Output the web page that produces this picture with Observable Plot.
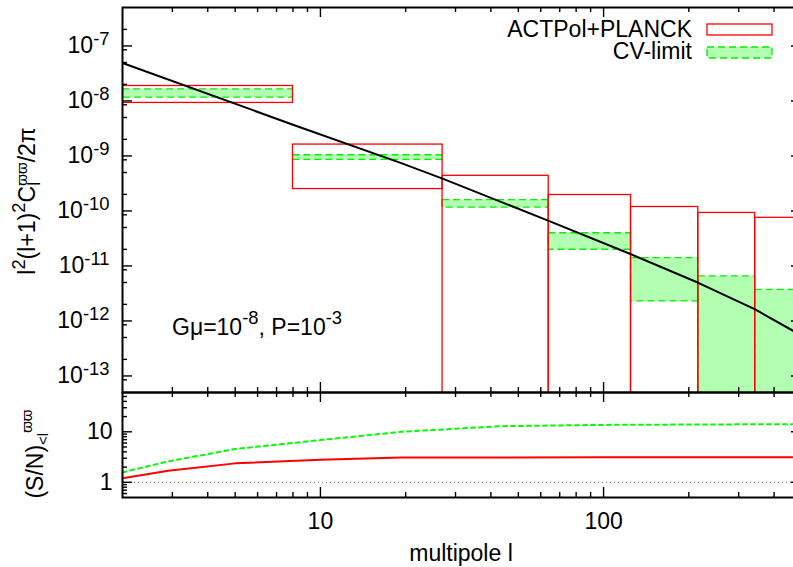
<!DOCTYPE html>
<html><head><meta charset="utf-8">
<script src="https://cdn.jsdelivr.net/npm/d3@7"></script>
<script src="https://cdn.jsdelivr.net/npm/@observablehq/plot@0.6"></script>
<style>
html,body{margin:0;padding:0;background:#fff;overflow:hidden;width:793px;height:567px;}
#wrap{position:relative;width:793px;height:567px;overflow:hidden;}
#wrap svg{position:absolute;left:0;}
</style></head><body><div id="wrap"></div>
<script>
// ---- data ----
const binLo = [2, 8, 27, 64, 125, 216, 343];
const binHi = [8, 27, 64, 125, 216, 343, 512];
// ACTPol+PLANCK boxes (lower bound 1e-16 = "reaches zero", below the axis)
const actLo = [9.2e-9, 2.5e-10, 1e-16, 1e-16, 1e-16, 1e-16, 1e-16];
const actHi = [1.87e-8, 1.61e-9, 4.35e-10, 1.95e-10, 1.18e-10, 9.2e-11, 7.5e-11];
// CV-limit boxes
const cvLo = [1.15e-8, 8.5e-10, 1.15e-10, 1.97e-11, 2.26e-12, 1e-16, 1e-16];
const cvHi = [1.62e-8, 1.03e-9, 1.57e-10, 3.93e-11, 1.39e-11, 6.45e-12, 3.68e-12];
// theory spectrum
const thL = [2, 8, 19.3, 27, 64, 125, 216, 343, 470];
const thV = [4.9e-8, 3.7e-9, 7.4e-10, 3.87e-10, 6.6e-11, 1.63e-11, 4.94e-12, 1.62e-12, 6.5e-13];
// cumulative S/N
const snL = [2, 2.9, 5, 10, 19.3, 43, 100, 500];
const snAct = [1.2, 1.7, 2.37, 2.8, 3.1, 3.1, 3.12, 3.15];
const snCV = [1.57, 2.6, 4.56, 6.86, 10, 12.9, 13.7, 14.2];
// ticks
const xMajor = [10, 100];
const xMinor = [3,4,5,6,7,8,9,20,30,40,50,60,70,80,90,200,300,400];
const yTopMajor = [1e-13,1e-12,1e-11,1e-10,1e-9,1e-8,1e-7];
const yTopMinorMult = [2, 5, 8.5];
const yBotMajor = [1, 10];
const yBotMinor = [0.6,0.7,0.8,0.9,2,3,4,5,6,7,8,9,20,30,40,50];

const bins = binLo.map((d,i)=>({lo:d, hi:binHi[i], aLo:actLo[i], aHi:actHi[i], cLo:cvLo[i], cHi:cvHi[i]}));
const theory = thL.map((d,i)=>({l:d, v:thV[i]}));
const sn = snL.map((d,i)=>({l:d, act:snAct[i], cv:snCV[i]}));
const yTopMinor = [];
for (let k=-14;k<=-7;k++) for (const m of yTopMinorMult) { const v=m*Math.pow(10,k); if (v>5e-14 && v<5e-7) yTopMinor.push(v); }

const W = 801, ML = 122, PW = W - ML;
const FS = 23, SFS = 18.4;
const FONT = "'Liberation Sans', Arial, Helvetica, sans-serif";
const baseStyle = {background:"transparent", maxWidth:"none", overflow:"visible", fontFamily:FONT, fontSize:FS+"px", color:"black"};

function yT(vals, len, side){ return Plot.tickY(vals, {y:d=>d, stroke:"black", strokeWidth:1.4, insetRight: side==="left"? PW-len:0, insetLeft: side==="right"? PW-len:0}); }
function xT(vals, len, side, PH){ return Plot.tickX(vals, {x:d=>d, stroke:"black", strokeWidth:1.4, insetBottom: side==="top"? PH-len:0, insetTop: side==="bottom"? PH-len:0}); }

const TOPH = 385;
const topPlot = Plot.plot({
  width: W, height: 400, marginLeft: ML, marginRight: 0, marginTop: 7, marginBottom: 8,
  style: baseStyle,
  x: {type:"log", domain:[2,500], axis:null},
  y: {type:"log", domain:[5e-14,5e-7], axis:null},
  marks: [
    Plot.rect(bins, {x1:"lo", x2:"hi", y1:"cLo", y2:"cHi", fill:"#00ff00", fillOpacity:0.3, stroke:"#00f000", strokeWidth:1.3, strokeDasharray:"7,4", clip:true}),
    Plot.rect(bins, {x1:"lo", x2:"hi", y1:"aLo", y2:"aHi", fill:"none", stroke:"#ff0000", strokeWidth:1.3, clip:true}),
    Plot.line(theory, {x:"l", y:"v", stroke:"black", strokeWidth:2, clip:true}),
    yT(yTopMajor, 10, "left"), yT(yTopMinor, 5, "left"),
    yT(yTopMajor, 10, "right"), yT(yTopMinor, 5, "right"),
    xT(xMajor, 10, "top", TOPH), xT(xMinor, 5, "top", TOPH),
    xT(xMajor, 10, "bottom", TOPH), xT(xMinor, 5, "bottom", TOPH),
    Plot.frame({stroke:"black", strokeWidth:2}),
    Plot.axisY(yTopMajor, {anchor:"left", label:null, tickSize:0, tickPadding:13, fontSize:FS, tickFormat:d=>"10^"+Math.round(Math.log10(d))})
  ]
});
topPlot.style.top = "0px";

const BOTH = 105;
const botPlot = Plot.plot({
  width: W, height: 187, marginLeft: ML, marginRight: 0, marginTop: 12, marginBottom: 70,
  style: baseStyle,
  x: {type:"log", domain:[2,500], axis:null},
  y: {type:"log", domain:[0.5,60], axis:null},
  marks: [
    Plot.ruleY([1], {stroke:"#666", strokeWidth:1, strokeDasharray:"1,3"}),
    Plot.line(sn, {x:"l", y:"act", stroke:"#ff0000", strokeWidth:2}),
    Plot.line(sn, {x:"l", y:"cv", stroke:"#00ff00", strokeWidth:2, strokeDasharray:"4,4"}),
    yT(yBotMajor, 10, "left"), yT(yBotMinor, 5, "left"),
    yT(yBotMajor, 10, "right"), yT(yBotMinor, 5, "right"),
    xT(xMajor, 10, "top", BOTH), xT(xMinor, 5, "top", BOTH),
    xT(xMajor, 10, "bottom", BOTH), xT(xMinor, 5, "bottom", BOTH),
    Plot.frame({stroke:"black", strokeWidth:2}),
    Plot.axisY(yBotMajor, {anchor:"left", label:null, tickSize:0, tickPadding:10, fontSize:FS, tickFormat:d=>String(d)}),
    Plot.axisX(xMajor, {anchor:"bottom", label:null, tickSize:0, tickPadding:15, fontSize:FS, tickFormat:d=>String(d)})
  ]
});
botPlot.style.top = "380px";

const wrap = document.getElementById("wrap");
wrap.appendChild(topPlot);
wrap.appendChild(botPlot);

// tick label font size + superscript exponents (all texts Plot drew are tick labels)
d3.selectAll("#wrap svg text").style("font-size", FS+"px").attr("fill","black");
d3.selectAll("#wrap svg text").each(function(){
  const t = this.textContent; const m = t.match(/^10\^(-?\d+)$/);
  if (m) { const s = d3.select(this); s.text("10"); s.append("tspan").attr("dy",-8).style("font-size",SFS+"px").text(m[1]); }
});

const st = d3.select(topPlot), sb = d3.select(botPlot);
// y label (top)
const yl = st.append("text").attr("transform","translate(35,201) rotate(-90)").attr("text-anchor","middle").attr("font-size",FS).attr("fill","black");
yl.append("tspan").text("l");
yl.append("tspan").attr("dy",-10).attr("font-size",SFS).text("2");
yl.append("tspan").attr("dy",10).text("(l+1)");
yl.append("tspan").attr("dy",-10).attr("font-size",SFS).text("2");
yl.append("tspan").attr("dy",10).text("C");
yl.append("tspan").attr("dy",5).attr("font-size",SFS).text("l");
yl.append("tspan").attr("dx",-4).attr("dy",-13).attr("font-size",15).text("ϖϖ");
yl.append("tspan").attr("dy",8).text("/2π");

// annotation
const an = st.append("text").attr("x",172).attr("y",335).attr("text-anchor","start").attr("font-size",FS).attr("fill","black");
an.append("tspan").text("Gμ=10");
an.append("tspan").attr("dy",-11).attr("font-size",SFS).text("-8");
an.append("tspan").attr("dy",11).text(", P=10");
an.append("tspan").attr("dy",-11).attr("font-size",SFS).text("-3");

// legend
st.append("text").attr("x",692).attr("y",36.5).attr("text-anchor","end").attr("font-size",FS).attr("fill","black").text("ACTPol+PLANCK");
st.append("rect").attr("x",707).attr("y",24).attr("width",65).attr("height",11).attr("fill","none").attr("stroke","#ff0000").attr("stroke-width",1.3);
st.append("text").attr("x",692).attr("y",59).attr("text-anchor","end").attr("font-size",FS).attr("fill","black").text("CV-limit");
st.append("rect").attr("x",707).attr("y",47).attr("width",65).attr("height",11).attr("fill","#00ff00").attr("fill-opacity",0.3).attr("stroke","#00f000").attr("stroke-width",1.3).attr("stroke-dasharray","7,4");

// bottom y label
const bl = sb.append("text").attr("transform",`translate(43,${454-380}) rotate(-90)`).attr("text-anchor","middle").attr("font-size",FS).attr("fill","black");
bl.append("tspan").text("(S/N)");
bl.append("tspan").attr("dy",5).attr("font-size",15).text("<l");
bl.append("tspan").attr("dy",-16).attr("font-size",15).text("ϖϖ");

// x label
sb.append("text").attr("x",461).attr("y",181).attr("text-anchor","middle").attr("font-size",FS).attr("fill","black").text("multipole l");
</script></body></html>
